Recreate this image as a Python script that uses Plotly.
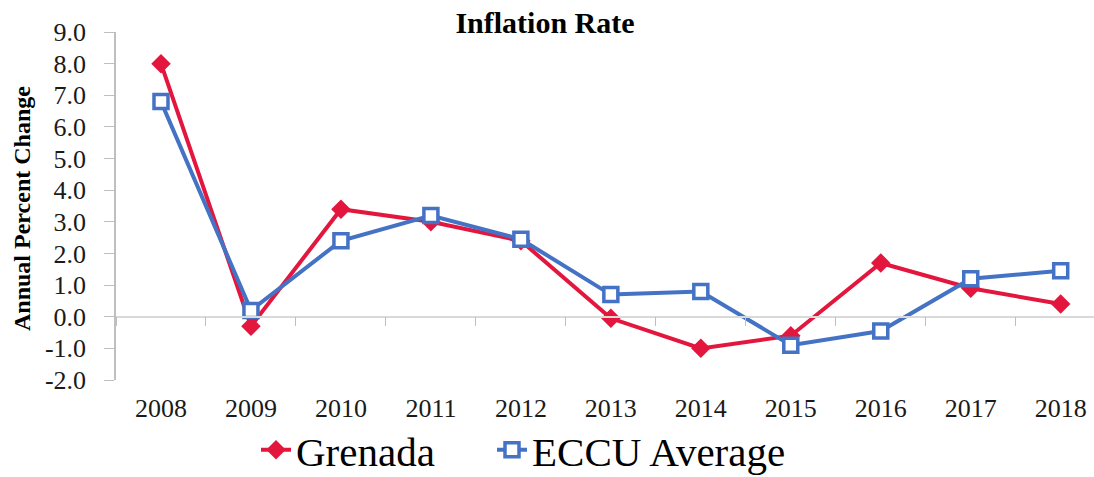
import plotly.graph_objects as go

years = ["2008", "2009", "2010", "2011", "2012", "2013", "2014", "2015", "2016", "2017", "2018"]
grenada = [8.0, -0.3, 3.4, 3.0, 2.4, -0.05, -1.0, -0.6, 1.7, 0.9, 0.4]
eccu = [6.8, 0.2, 2.4, 3.2, 2.45, 0.7, 0.8, -0.9, -0.45, 1.2, 1.45]
y_ticks = [-2.0, -1.0, 0.0, 1.0, 2.0, 3.0, 4.0, 5.0, 6.0, 7.0, 8.0, 9.0]

RED = "#E3173E"
BLUE = "#4472C4"
GRAY = "#BFBFBF"
SERIF = "Liberation Serif, Times New Roman, serif"

W, H = 1094, 477
L, T, B, R = 116, 32, 97, 0
plot_w = W - L - R
plot_h = H - T - B

fig = go.Figure()
fig.add_trace(go.Scatter(
    x=years, y=grenada, name="Grenada", mode="lines+markers",
    line=dict(color=RED, width=4),
    marker=dict(symbol="diamond", size=15, color=RED),
    xaxis="x2", legend="legend",
))
fig.add_trace(go.Scatter(
    x=years, y=eccu, name="ECCU Average", mode="lines+markers",
    line=dict(color=BLUE, width=4),
    marker=dict(symbol="square", size=14, color="white", line=dict(color=BLUE, width=3.5)),
    xaxis="x2", legend="legend2",
))
# invisible trace on the zero-line axis so its ticks render
fig.add_trace(go.Scatter(x=years, y=[None] * len(years), showlegend=False,
                         hoverinfo="skip", mode="lines"))

legend_common = dict(
    orientation="h", xref="container", xanchor="left",
    y=27 / H, yref="container", yanchor="middle",
    font=dict(family=SERIF, size=41, color="#000"),
    itemwidth=30, bgcolor="rgba(0,0,0,0)",
)

fig.update_layout(
    width=W, height=H,
    margin=dict(l=L, r=R, t=T, b=B, autoexpand=False),
    paper_bgcolor="white", plot_bgcolor="white",
    font=dict(family=SERIF, color="#1a1a1a"),
    title=dict(text="<b>Inflation Rate</b>", font=dict(family=SERIF, size=30, color="#000"),
               x=545 / W, xref="container", xanchor="center",
               y=1 - 22 / H, yref="container", yanchor="middle"),
    xaxis=dict(
        type="category", range=[-0.5, 10.37], automargin=False,
        anchor="free", position=2 / 11,
        showline=True, linecolor="#D9D9D9", linewidth=1.5,
        ticks="outside", tickson="boundaries", ticklen=9, tickcolor=GRAY, tickwidth=1,
        showticklabels=False, showgrid=False, zeroline=False,
    ),
    xaxis2=dict(
        type="category", matches="x", overlaying="x", anchor="y", side="bottom",
        automargin=False,
        showline=False, showgrid=False, zeroline=False,
        ticks="", ticklabelstandoff=10,
        tickfont=dict(family=SERIF, size=26, color="#1a1a1a"),
    ),
    yaxis=dict(
        range=[-2, 9], tickvals=y_ticks, ticktext=[f"{v:.1f}" for v in y_ticks],
        automargin=False,
        showline=True, linecolor=GRAY, linewidth=1.5,
        ticks="outside", ticklen=10, tickcolor=GRAY, ticklabelstandoff=13,
        showgrid=False, zeroline=False,
        tickfont=dict(family=SERIF, size=26, color="#1a1a1a"),
    ),
    annotations=[dict(
        text="<b>Annual Percent Change</b>", textangle=-90,
        x=(22 - L) / plot_w, y=(380 - 209) / plot_h, xref="paper", yref="paper",
        xanchor="center", yanchor="middle", showarrow=False,
        font=dict(family=SERIF, size=24, color="#000"),
    )],
    legend=dict(x=256 / W, **legend_common),
    legend2=dict(x=492 / W, **legend_common),
    showlegend=True,
)

fig.write_html("out.html", config={"displayModeBar": False},
               post_script="document.body.style.margin='0';")
